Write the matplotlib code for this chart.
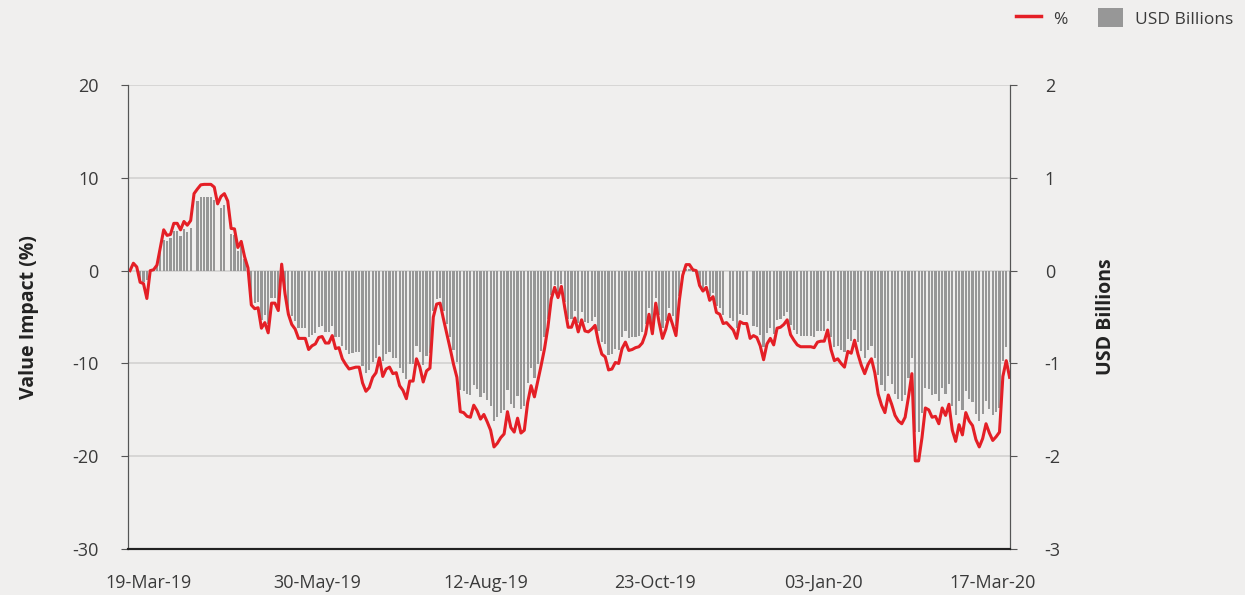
import numpy as np
from matplotlib import pyplot as plt
from matplotlib.lines import Line2D
from matplotlib.patches import Patch

plt.rcParams['font.family'] = ['Open Sans', 'DejaVu Sans']
plt.rcParams['axes.unicode_minus'] = False

# daily value impact in % (left axis)
pct = [
    0.0, 0.8, 0.4, -1.25, -1.4, -3.0, 0.0, 0.1, 0.6, 2.5,
    4.4, 3.8, 3.9, 5.1, 5.1, 4.4, 5.3, 4.9, 5.4, 8.3,
    8.8, 9.25, 9.3, 9.3, 9.3, 9.0, 7.2, 8.0, 8.3, 7.5,
    4.55, 4.5, 2.5, 3.15, 1.5, 0.3, -3.7, -4.1, -4.0, -6.2,
    -5.6, -6.7, -3.5, -3.5, -4.3, 0.7, -2.5, -4.7, -5.8, -6.3,
    -7.3, -7.3, -7.3, -8.5, -8.1, -7.9, -7.2, -7.1, -7.8, -7.8,
    -7.0, -8.4, -8.3, -9.5, -10.1, -10.6, -10.5, -10.4, -10.4, -12.1,
    -13.0, -12.6, -11.5, -11.0, -9.4, -11.4, -10.6, -10.4, -11.1, -11.0,
    -12.4, -12.9, -13.8, -11.9, -11.9, -9.5, -10.4, -12.0, -10.8, -10.5,
    -5.0, -3.6, -3.5, -5.2, -6.8, -8.4, -10.1, -11.5, -15.2, -15.3,
    -15.7, -15.8, -14.5, -15.1, -16.0, -15.5, -16.3, -17.2, -19.0, -18.6,
    -18.0, -17.6, -15.2, -16.9, -17.4, -15.9, -17.5, -17.2, -14.2, -12.4,
    -13.6, -11.9, -10.2, -8.4, -6.1, -3.05, -1.8, -2.9, -1.7, -4.0,
    -6.1, -6.1, -5.1, -6.6, -5.3, -6.5, -6.6, -6.3, -5.9, -7.7,
    -9.0, -9.3, -10.7, -10.6, -9.9, -10.0, -8.4, -7.7, -8.6, -8.5,
    -8.3, -8.2, -7.8, -6.8, -4.7, -6.8, -3.5, -5.6, -7.3, -6.3,
    -4.7, -5.8, -7.0, -3.2, -0.5, 0.65, 0.65, 0.1, 0.0, -1.6,
    -2.2, -1.8, -3.2, -2.8, -4.5, -4.7, -5.7, -5.6, -6.0, -6.4,
    -7.3, -5.5, -5.7, -5.7, -7.3, -7.0, -7.2, -8.1, -9.6, -7.9,
    -7.3, -8.0, -6.2, -6.1, -5.8, -5.3, -6.9, -7.5, -8.0, -8.2,
    -8.2, -8.2, -8.2, -8.3, -7.7, -7.6, -7.6, -6.4, -8.5, -9.7,
    -9.5, -10.0, -10.4, -8.7, -8.9, -7.5, -9.0, -10.2, -11.1, -10.1,
    -9.5, -11.0, -13.3, -14.5, -15.3, -13.4, -14.4, -15.6, -16.2, -16.5,
    -15.8, -13.6, -11.1, -20.5, -20.5, -18.0, -14.8, -15.0, -15.8, -15.7,
    -16.5, -14.8, -15.6, -14.4, -17.2, -18.4, -16.6, -17.7, -15.3, -16.2,
    -16.7, -18.2, -19.0, -18.1, -16.5, -17.5, -18.3, -17.9, -17.4, -11.4,
    -9.7, -11.5,
]

# daily value impact in USD billions (right axis)
usd_bn = [
    0.0, 0.0, 0.0, -0.11, -0.12, -0.1, 0.0, 0.01, 0.05, 0.21,
    0.33, 0.32, 0.35, 0.43, 0.43, 0.37, 0.45, 0.42, 0.46, 0.0,
    0.75, 0.79, 0.79, 0.79, 0.79, 0.76, 0.0, 0.68, 0.71, 0.0,
    0.39, 0.38, 0.21, 0.27, 0.13, 0.03, -0.31, -0.35, -0.34, -0.53,
    -0.48, -0.57, -0.3, -0.3, -0.37, 0.0, -0.21, -0.4, -0.49, -0.54,
    -0.62, -0.62, -0.62, -0.72, -0.69, -0.67, -0.61, -0.6, -0.66, -0.66,
    -0.6, -0.71, -0.71, -0.81, -0.86, -0.9, -0.89, -0.88, -0.88, -1.03,
    -1.1, -1.07, -0.98, -0.94, -0.8, -0.97, -0.9, -0.88, -0.94, -0.94,
    -1.05, -1.1, -1.17, -1.01, -1.01, -0.81, -0.88, -1.02, -0.92, -0.89,
    -0.43, -0.31, -0.3, -0.44, -0.58, -0.71, -0.86, -0.98, -1.29, -1.3,
    -1.33, -1.34, -1.23, -1.28, -1.36, -1.32, -1.39, -1.46, -1.62, -1.58,
    -1.53, -1.5, -1.29, -1.44, -1.48, -1.35, -1.49, -1.46, -1.21, -1.05,
    -1.16, -1.01, -0.87, -0.71, -0.52, -0.26, -0.15, -0.25, -0.14, -0.34,
    -0.52, -0.52, -0.43, -0.56, -0.45, -0.55, -0.56, -0.54, -0.5, -0.65,
    -0.77, -0.79, -0.91, -0.9, -0.84, -0.85, -0.71, -0.65, -0.73, -0.72,
    -0.71, -0.7, -0.66, -0.58, -0.4, -0.58, -0.3, -0.48, -0.62, -0.54,
    -0.4, -0.49, -0.6, -0.27, -0.04, 0.02, 0.02, -0.01, -0.01, -0.14,
    -0.19, -0.15, -0.27, -0.24, -0.38, -0.4, -0.48, 0.0, -0.51, -0.54,
    -0.62, -0.47, -0.48, -0.48, 0.0, -0.6, -0.61, -0.69, -0.82, -0.67,
    -0.62, -0.68, -0.53, -0.52, -0.49, -0.45, -0.59, -0.64, -0.68, -0.7,
    -0.7, -0.7, -0.7, -0.71, -0.65, -0.65, -0.65, -0.54, -0.72, -0.82,
    -0.81, -0.85, -0.88, -0.74, -0.76, -0.64, -0.77, -0.87, -0.94, -0.86,
    -0.81, -0.94, -1.13, -1.23, -1.3, -1.14, -1.22, -1.33, -1.38, -1.4,
    -1.34, -1.16, -0.94, -1.74, -1.74, -1.53, -1.26, -1.28, -1.34, -1.33,
    -1.4, -1.26, -1.33, -1.22, -1.46, -1.56, -1.41, -1.5, -1.3, -1.38,
    -1.42, -1.55, -1.62, -1.54, -1.4, -1.49, -1.56, -1.52, -1.48, -0.97,
    -0.82, -0.98,
]

date_labels = ['19-Mar-19', '30-May-19', '12-Aug-19', '23-Oct-19', '03-Jan-20', '17-Mar-20']

bg = '#f0efee'
red = '#e41f26'
bar_grey = '#979797'
txt = '#3a3a3a'

fig = plt.figure(figsize=(12.45, 5.95), dpi=100, facecolor=bg)
ax = fig.add_axes([0.1028, 0.0773, 0.7084, 0.7797])
ax2 = ax.twinx()

x = np.arange(len(pct))

ax2.set_facecolor(bg)
ax2.bar(x, usd_bn, width=0.65, color=bar_grey, zorder=2)
ax2.set_ylim(-3, 2)
ax2.set_yticks([-3, -2, -1, 0, 1, 2])
for v in [-2, -1, 0, 1, 2]:
    ax2.axhline(v, color='#d3d1d0', lw=1.2, zorder=1)

ax.set_zorder(ax2.get_zorder() + 1)
ax.patch.set_visible(False)
ax.plot(x, pct, color=red, lw=2.2, solid_joinstyle='round')
ax.set_ylim(-30, 20)
ax.set_yticks([-30, -20, -10, 0, 10, 20])
ax.set_xlim(-0.6, 261.1)
ax.set_xticks(np.linspace(5.5, 256, 6))
ax.set_xticklabels(date_labels)

for a in (ax, ax2):
    a.spines['top'].set_visible(False)
    a.spines['left'].set_color('#555555')
    a.spines['right'].set_color('#555555')
    a.spines['bottom'].set_color('#222222')
    a.spines['bottom'].set_linewidth(1.5)
    a.tick_params(axis='y', colors='#555555', length=5, labelcolor=txt, labelsize=13)

ax.tick_params(axis='y', pad=16)
ax2.tick_params(axis='y', pad=20)
ax.tick_params(axis='x', length=0, pad=18, labelsize=13, labelcolor=txt)

ax.set_ylabel('Value Impact (%)', fontsize=14, fontweight='bold', color='#222222', labelpad=24)
ax2.set_ylabel('USD Billions', fontsize=14, fontweight='bold', color='#222222', labelpad=25)

handles = [Line2D([0], [0], color=red, lw=2.5), Patch(facecolor=bar_grey)]
fig.legend(handles, ['%', 'USD Billions'], loc='upper right', bbox_to_anchor=(1.003, 1.012),
           ncol=2, frameon=False, fontsize=12.5, handlelength=1.4, handleheight=1.3,
           columnspacing=1.8, handletextpad=0.7, labelcolor=txt)

plt.savefig('out.png', dpi=100, facecolor=bg)
